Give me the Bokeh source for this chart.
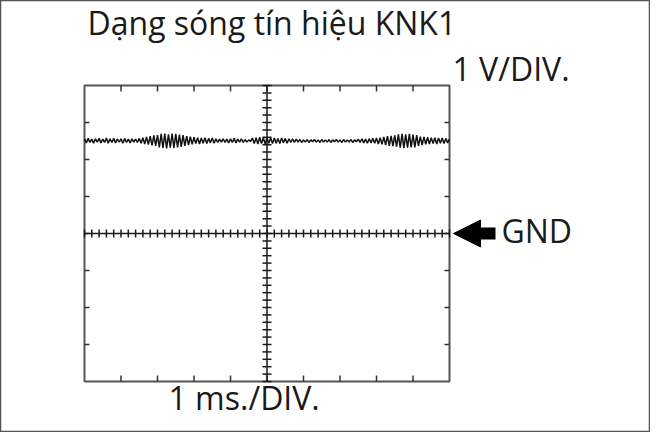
import numpy as np
from bokeh.plotting import figure
from bokeh.models import Range1d, Arrow, NormalHead
from bokeh.core.properties import value
from bokeh.embed import file_html
from bokeh.resources import INLINE

# ---------------- data ----------------
title_text = "Dạng sóng tín hiệu KNK1"
volt_label = "1 V/DIV."
time_label = "1 ms./DIV."
gnd_label = "GND"

x_divisions = [0, 1, 2, 3, 4, 5, 6, 7, 8, 9, 10]      # ms
y_divisions = [-4, -3, -2, -1, 0, 1, 2, 3, 4]          # V
center_time = 5
gnd_level = 0

# KNK1 signal (V), sampled every 0.05 ms over 10 ms
trace_v = [
    2.56, 2.45, 2.57, 2.46, 2.55, 2.44, 2.56, 2.47, 2.57, 2.45, 2.55, 2.46, 2.58, 2.44, 2.56, 2.46,
    2.57, 2.45, 2.55, 2.47, 2.56, 2.44, 2.57, 2.46, 2.55, 2.45, 2.56, 2.47, 2.55, 2.46, 2.57, 2.44,
    2.59, 2.42, 2.61, 2.40, 2.63, 2.38, 2.65, 2.37, 2.66,
    2.33, 2.69, 2.31, 2.70, 2.30, 2.68, 2.32, 2.70, 2.31, 2.69, 2.33, 2.67, 2.34, 2.66,
    2.37, 2.63, 2.39, 2.62, 2.41, 2.60,
    2.43, 2.59, 2.42, 2.58, 2.44, 2.59, 2.43, 2.57, 2.45, 2.58, 2.44, 2.56, 2.46, 2.55, 2.47, 2.56,
    2.46, 2.55, 2.45, 2.56, 2.46, 2.57, 2.45, 2.55, 2.47, 2.56, 2.46, 2.54, 2.47, 2.53, 2.49,
    2.58, 2.43, 2.59, 2.42, 2.60, 2.43, 2.59, 2.42, 2.58, 2.44, 2.59, 2.43, 2.58, 2.44, 2.57, 2.43,
    2.58, 2.45, 2.57, 2.44, 2.56, 2.46, 2.56, 2.46, 2.55,
    2.47, 2.54, 2.46, 2.53, 2.47, 2.54, 2.46, 2.53, 2.48, 2.54, 2.47, 2.53, 2.46, 2.54, 2.47, 2.53,
    2.47, 2.54, 2.46, 2.53, 2.48, 2.54, 2.47, 2.53, 2.46, 2.54, 2.47, 2.53, 2.47, 2.54, 2.46, 2.53,
    2.48, 2.55, 2.46, 2.56, 2.45, 2.55, 2.44, 2.56, 2.45, 2.57, 2.44,
    2.58, 2.42, 2.59, 2.41, 2.61, 2.39, 2.63, 2.37, 2.64, 2.36, 2.65, 2.35,
    2.68, 2.32, 2.69, 2.31, 2.68, 2.32, 2.69, 2.33, 2.67, 2.33, 2.66,
    2.37, 2.62, 2.39, 2.61, 2.41, 2.60, 2.42, 2.59, 2.43, 2.59, 2.42, 2.58, 2.44, 2.58, 2.43, 2.57,
    2.45, 2.55,
]
trace_t = np.linspace(x_divisions[0], x_divisions[-1], len(trace_v))
subdivisions = 5

# ---------------- layout ----------------
W, H = 650, 432
PX_X = 36.5   # pixels per ms division
PX_Y = 37.0   # pixels per V division
LEFT, TOP, BOTTOM = 84, 85, 51
FONT = value("Open Sans")
FS = 32
SHIFT = 0.4 * FS   # baseline compensation, px

p = figure(width=W, height=H, output_backend="svg", toolbar_location=None,
           x_range=Range1d(-LEFT / PX_X, (W - LEFT) / PX_X),
           y_range=Range1d(y_divisions[0] - BOTTOM / PX_Y, y_divisions[-1] + TOP / PX_Y),
           min_border=0, x_axis_type=None, y_axis_type=None)
p.grid.visible = False
p.outline_line_color = "#555555"
p.outline_line_width = 1.5
p.background_fill_color = "white"
p.border_fill_color = "white"

x0, x1 = x_divisions[0], x_divisions[-1]
y0, y1 = y_divisions[0], y_divisions[-1]
inner_x = x_divisions[1:-1]
inner_y = y_divisions[1:-1]

# graticule frame
p.quad(left=[x0], right=[x1], bottom=[y0], top=[y1], fill_alpha=0,
       line_color="#555555", line_width=2)

# edge ticks
tick_v = 6 / PX_Y
tick_h = 5 / PX_X
p.segment(x0=inner_x, y0=[y1] * len(inner_x), x1=inner_x, y1=[y1 - tick_v] * len(inner_x),
          line_color="#333333", line_width=1.5)
p.segment(x0=inner_x, y0=[y0] * len(inner_x), x1=inner_x, y1=[y0 + tick_v] * len(inner_x),
          line_color="#333333", line_width=1.5)
p.segment(x0=[x0] * len(inner_y), y0=inner_y, x1=[x0 + tick_h] * len(inner_y), y1=inner_y,
          line_color="#333333", line_width=1.5)
p.segment(x0=[x1] * len(inner_y), y0=inner_y, x1=[x1 - tick_h] * len(inner_y), y1=inner_y,
          line_color="#333333", line_width=1.5)

# centre cross
p.segment(x0=[center_time], y0=[y0], x1=[center_time], y1=[y1], line_color="#1a1a1a", line_width=1.5)
p.segment(x0=[x0], y0=[gnd_level], x1=[x1], y1=[gnd_level], line_color="#1a1a1a", line_width=1.5)

minor_x = np.linspace(x0, x1, (len(x_divisions) - 1) * subdivisions + 1)
minor_y = np.linspace(y0, y1, (len(y_divisions) - 1) * subdivisions + 1)
mt_v = 4 / PX_Y
mt_h = 4.5 / PX_X
p.segment(x0=minor_x, y0=gnd_level - mt_v, x1=minor_x, y1=gnd_level + mt_v,
          line_color="#1a1a1a", line_width=1.5)
p.segment(x0=center_time - mt_h, y0=minor_y, x1=center_time + mt_h, y1=minor_y,
          line_color="#1a1a1a", line_width=1.5)

# signal trace
p.line(trace_t, trace_v, line_color="#111111", line_width=1.5)

# texts (positions in reference pixels; page offset 8px)
def put(text, px, baseline_py):
    p.text(x=[(px - 92) / PX_X], y=[(241 - baseline_py + SHIFT) / PX_Y], text=[text],
           text_font=FONT, text_font_size=f"{FS}px", text_color="#1a1a1a",
           text_baseline="alphabetic")

put(title_text, 95, 43)
put(volt_label, 460, 89)
put(gnd_label, 509, 251)
put(time_label, 176, 418)

# GND arrow
p.add_layout(Arrow(end=NormalHead(size=27, fill_color="black", line_color="black"),
                   x_start=(503 - 92) / PX_X, y_start=gnd_level,
                   x_end=(461 - 92) / PX_X, y_end=gnd_level,
                   line_width=12, line_color="black"))

open("out.html", "w").write(file_html(p, INLINE))
